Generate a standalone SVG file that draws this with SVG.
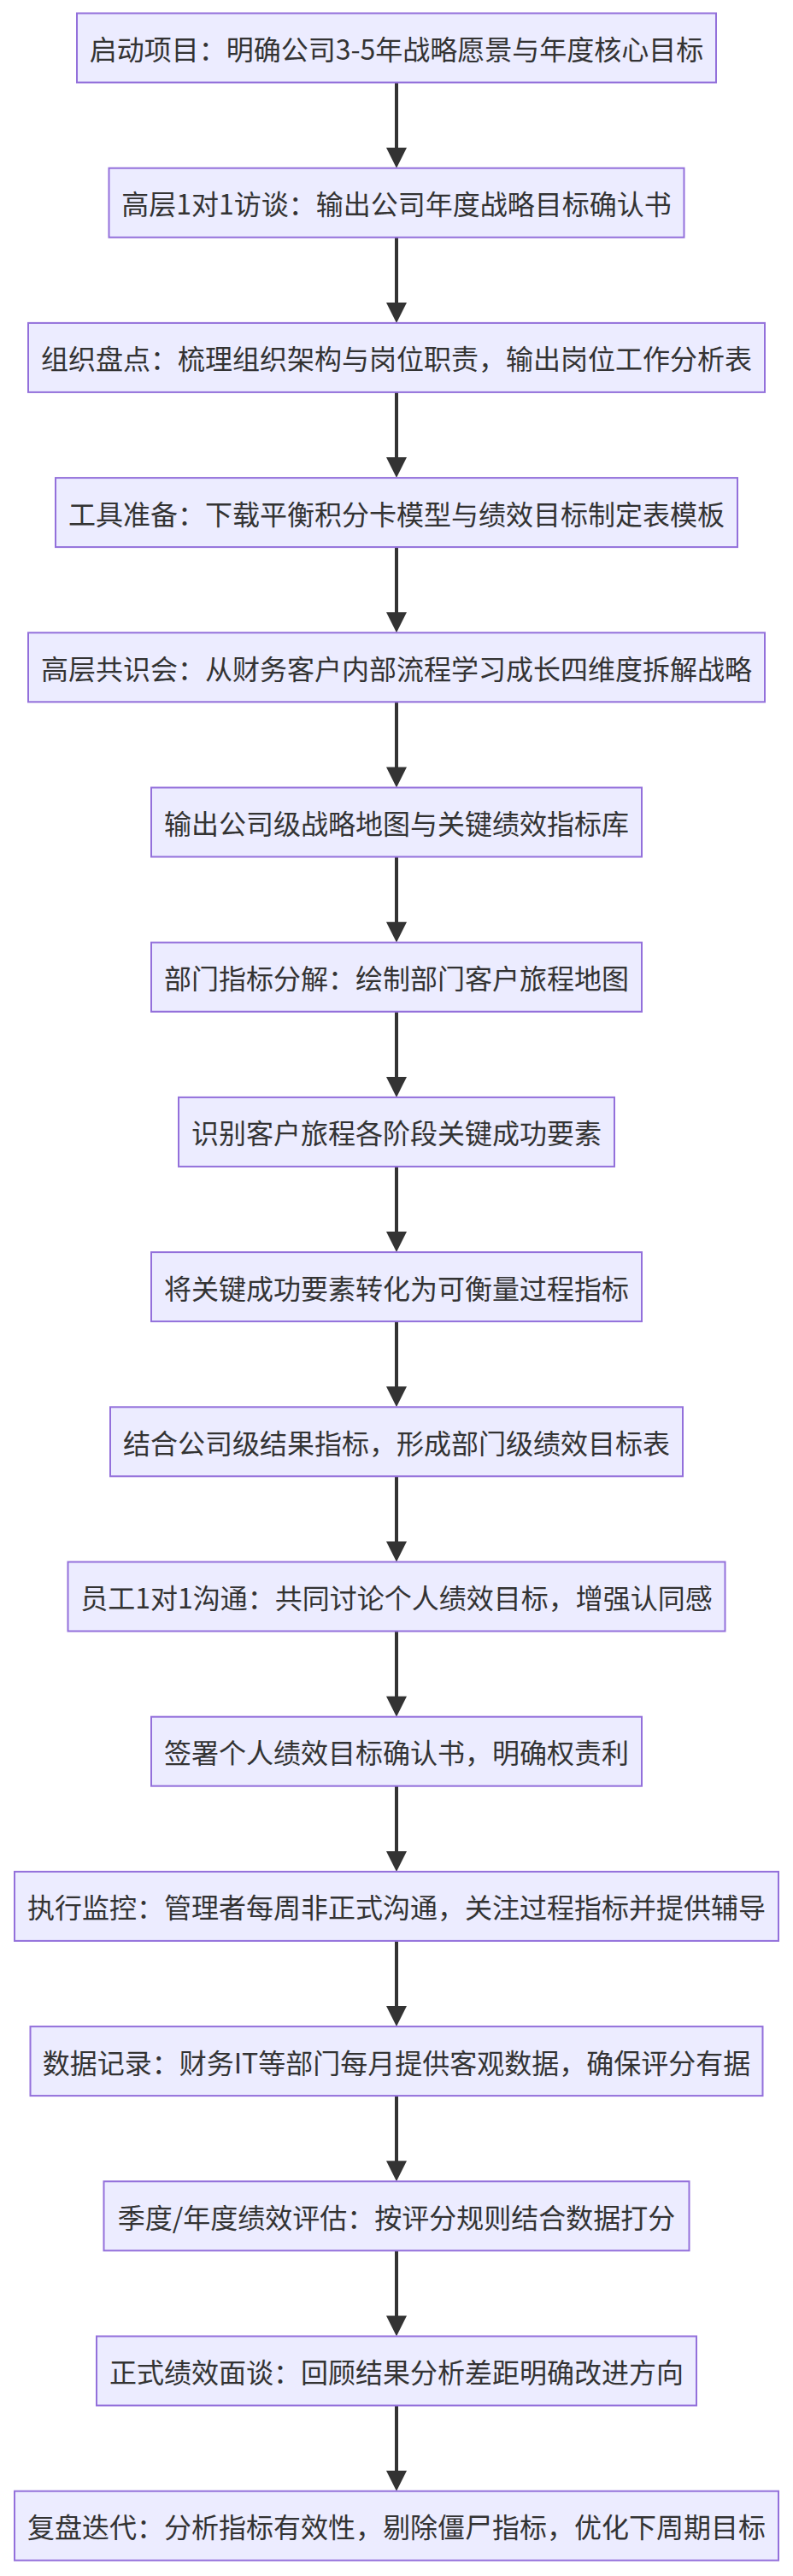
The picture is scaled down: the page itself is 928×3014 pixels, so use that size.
<svg xmlns="http://www.w3.org/2000/svg" width="928" height="3014" viewBox="0 0 928 3014">
<style>
.node rect{fill:#ECECFF;stroke:#9370DB;stroke-width:2}
.node text{font-family:"Noto Sans CJK SC","Noto Sans",sans-serif;font-size:32px;fill:#333333;text-anchor:middle;dominant-baseline:central}
.edge line{stroke:#333333;stroke-width:4}
.edge polygon{fill:#333333}
</style>
<rect width="928" height="3014" fill="#ffffff"/>
<g id="connectors" class="edge">
<line x1="464" y1="96.5" x2="464" y2="173"/><polygon points="452,172.7 476,172.7 464,196.7"/>
<line x1="464" y1="277.7" x2="464" y2="354"/><polygon points="452,353.9 476,353.9 464,377.9"/>
<line x1="464" y1="458.9" x2="464" y2="536"/><polygon points="452,535.1 476,535.1 464,559.1"/>
<line x1="464" y1="640.1" x2="464" y2="717"/><polygon points="452,716.3 476,716.3 464,740.3"/>
<line x1="464" y1="821.3" x2="464" y2="898"/><polygon points="452,897.5 476,897.5 464,921.5"/>
<line x1="464" y1="1002.5" x2="464" y2="1079"/><polygon points="452,1078.7 476,1078.7 464,1102.7"/>
<line x1="464" y1="1183.7" x2="464" y2="1260"/><polygon points="452,1259.9 476,1259.9 464,1283.9"/>
<line x1="464" y1="1364.9" x2="464" y2="1442"/><polygon points="452,1441.1 476,1441.1 464,1465.1"/>
<line x1="464" y1="1546.1" x2="464" y2="1623"/><polygon points="452,1622.3 476,1622.3 464,1646.3"/>
<line x1="464" y1="1727.3" x2="464" y2="1804"/><polygon points="452,1803.5 476,1803.5 464,1827.5"/>
<line x1="464" y1="1908.5" x2="464" y2="1985"/><polygon points="452,1984.7 476,1984.7 464,2008.7"/>
<line x1="464" y1="2089.7" x2="464" y2="2166"/><polygon points="452,2165.9 476,2165.9 464,2189.9"/>
<line x1="464" y1="2270.9" x2="464" y2="2348"/><polygon points="452,2347.1 476,2347.1 464,2371.1"/>
<line x1="464" y1="2452.1" x2="464" y2="2529"/><polygon points="452,2528.3 476,2528.3 464,2552.3"/>
<line x1="464" y1="2633.3" x2="464" y2="2710"/><polygon points="452,2709.5 476,2709.5 464,2733.5"/>
<line x1="464" y1="2814.5" x2="464" y2="2891"/><polygon points="452,2890.7 476,2890.7 464,2914.7"/>
</g>
<g id="n1" class="node"><rect x="90" y="15.5" width="748" height="81"/><text x="464" y="56">启动项目：明确公司3-5年战略愿景与年度核心目标</text></g>
<g id="n2" class="node"><rect x="127.5" y="196.7" width="673" height="81"/><text x="464" y="237.2">高层1对1访谈：输出公司年度战略目标确认书</text></g>
<g id="n3" class="node"><rect x="33" y="377.9" width="862" height="81"/><text x="464" y="418.4">组织盘点：梳理组织架构与岗位职责，输出岗位工作分析表</text></g>
<g id="n4" class="node"><rect x="65" y="559.1" width="798" height="81"/><text x="464" y="599.6">工具准备：下载平衡积分卡模型与绩效目标制定表模板</text></g>
<g id="n5" class="node"><rect x="33" y="740.3" width="862" height="81"/><text x="464" y="780.8">高层共识会：从财务客户内部流程学习成长四维度拆解战略</text></g>
<g id="n6" class="node"><rect x="177" y="921.5" width="574" height="81"/><text x="464" y="962">输出公司级战略地图与关键绩效指标库</text></g>
<g id="n7" class="node"><rect x="177" y="1102.7" width="574" height="81"/><text x="464" y="1143.2">部门指标分解：绘制部门客户旅程地图</text></g>
<g id="n8" class="node"><rect x="209" y="1283.9" width="510" height="81"/><text x="464" y="1324.4">识别客户旅程各阶段关键成功要素</text></g>
<g id="n9" class="node"><rect x="177" y="1465.1" width="574" height="81"/><text x="464" y="1505.6">将关键成功要素转化为可衡量过程指标</text></g>
<g id="n10" class="node"><rect x="129" y="1646.3" width="670" height="81"/><text x="464" y="1686.8">结合公司级结果指标，形成部门级绩效目标表</text></g>
<g id="n11" class="node"><rect x="79.5" y="1827.5" width="769" height="81"/><text x="464" y="1868">员工1对1沟通：共同讨论个人绩效目标，增强认同感</text></g>
<g id="n12" class="node"><rect x="177" y="2008.7" width="574" height="81"/><text x="464" y="2049.2">签署个人绩效目标确认书，明确权责利</text></g>
<g id="n13" class="node"><rect x="17" y="2189.9" width="894" height="81"/><text x="464" y="2230.4">执行监控：管理者每周非正式沟通，关注过程指标并提供辅导</text></g>
<g id="n14" class="node"><rect x="35.5" y="2371.1" width="857" height="81"/><text x="464" y="2411.6">数据记录：财务IT等部门每月提供客观数据，确保评分有据</text></g>
<g id="n15" class="node"><rect x="121.5" y="2552.3" width="685" height="81"/><text x="464" y="2592.8">季度/年度绩效评估：按评分规则结合数据打分</text></g>
<g id="n16" class="node"><rect x="113" y="2733.5" width="702" height="81"/><text x="464" y="2774">正式绩效面谈：回顾结果分析差距明确改进方向</text></g>
<g id="n17" class="node"><rect x="17" y="2914.7" width="894" height="81"/><text x="464" y="2955.2">复盘迭代：分析指标有效性，剔除僵尸指标，优化下周期目标</text></g>
</svg>
